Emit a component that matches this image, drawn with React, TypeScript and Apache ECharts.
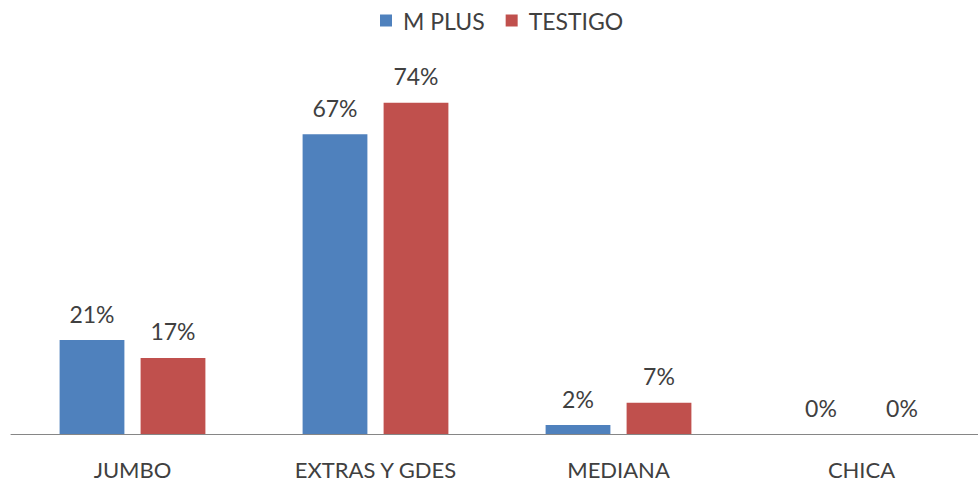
import React, { useEffect, useRef } from "react";
import * as echarts from "echarts";

const categories = ["JUMBO", "EXTRAS Y GDES", "MEDIANA", "CHICA"];
const mPlus = [21, 67, 2, 0];
const testigo = [17, 74, 7, 0];
const seriesNames = ["M PLUS", "TESTIGO"];

const FONT = "Lato, 'Open Sans', sans-serif";

export default function App() {
  const ref = useRef<HTMLDivElement>(null);
  useEffect(() => {
    if (!ref.current) return;
    const chart = echarts.init(ref.current, undefined, { renderer: "svg" });
    const label = {
      show: true,
      position: "top" as const,
      distance: 15,
      formatter: "{c}%",
      color: "#404040",
      fontSize: 23,
      fontFamily: FONT,
    };
    chart.setOption({
      animation: false,
      legend: {
        data: seriesNames,
        top: 4,
        left: 375,
        itemWidth: 12,
        itemHeight: 12,
        itemGap: 21,
        icon: "rect",
        textStyle: { color: "#404040", fontSize: 23, fontFamily: FONT, padding: [0, 0, 0, 6] },
      },
      grid: { left: 11, right: 7, top: 76, bottom: 47, containLabel: false },
      xAxis: {
        type: "category",
        data: categories,
        axisTick: { show: false },
        axisLine: { lineStyle: { color: "#868686", width: 1 } },
        axisLabel: { color: "#404040", fontSize: 22, fontFamily: FONT, margin: 24 },
      },
      yAxis: {
        type: "value",
        min: 0,
        max: 80,
        show: false,
        splitLine: { show: false },
      },
      series: [
        {
          name: seriesNames[0],
          type: "bar",
          data: mPlus,
          itemStyle: { color: "#4F81BD" },
          barGap: "25%",
          barCategoryGap: "40%",
          label,
        },
        {
          name: seriesNames[1],
          type: "bar",
          data: testigo,
          itemStyle: { color: "#C0504D" },
          barGap: "25%",
          barCategoryGap: "40%",
          label,
        },
      ],
    });
    return () => chart.dispose();
  }, []);
  return (
    <div style={{ position: "absolute", left: 0, top: 0, width: 978, height: 481, overflow: "hidden", background: "#fff" }}>
      <div ref={ref} style={{ width: 990, height: 481 }} />
    </div>
  );
}
